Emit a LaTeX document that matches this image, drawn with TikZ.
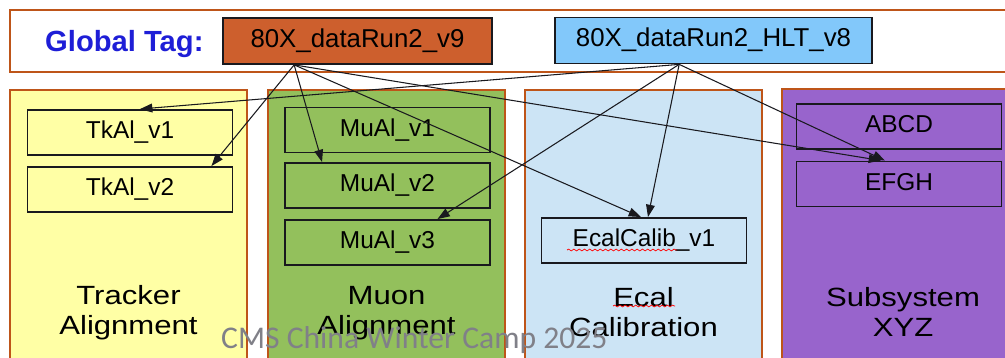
\documentclass[tikz,border=0pt]{standalone}
\usepackage{fontspec}
\setmainfont{Liberation Sans}
\newfontfamily\widefont[FakeStretch=1.18]{Liberation Sans}
\newfontfamily\markfont{Carlito}
\usetikzlibrary{arrows.meta,calc,decorations.pathmorphing}
\definecolor{rust}{RGB}{190,85,25}
\definecolor{ink}{RGB}{25,25,30}
\definecolor{tagblue}{RGB}{30,30,215}
\definecolor{gtorange}{RGB}{205,95,45}
\definecolor{gtsky}{RGB}{130,200,250}
\definecolor{trkyellow}{RGB}{255,255,165}
\definecolor{muongreen}{RGB}{147,192,92}
\definecolor{ecalblue}{RGB}{204,228,245}
\definecolor{subpurple}{RGB}{152,100,204}
\definecolor{markgray}{RGB}{128,128,136}

\begin{document}
\begin{tikzpicture}[x=0.02cm,y=-0.02cm,panel/.style={draw=rust,line width=1.7pt,fill=#1},tagbox/.style={draw=ink,line width=1pt,fill=#1,minimum height=0.92cm,inner sep=0pt,text height=0.72em,text depth=0pt,font=\fontsize{14.7}{17}\selectfont},condbox/.style={draw=ink,line width=1.1pt,minimum width=4.1cm,minimum height=0.9cm,inner sep=0pt,text height=0.72em,text depth=0pt,font=\fontsize{13.9}{16}\selectfont},sysname/.style={align=center,font=\widefont\fontsize{15}{17}\selectfont},arrow/.style={-{Triangle[length=7pt,width=5pt]},line width=0.6pt,draw=ink},squig/.style={draw=red,line width=0.4pt,decorate,decoration={snake,amplitude=0.5pt,segment length=3pt}}]
\clip (0,0) rectangle (1005,358);
% subsystem columns
\draw[panel=trkyellow] (10,90) rectangle (247,380);
\draw[panel=muongreen] (268,90) rectangle (505,380);
\draw[panel=ecalblue] (525,90) rectangle (762,380);
\draw[panel=subpurple] (782,89) rectangle (1020,380);
% global tag band
\draw[panel=white] (10,10) rectangle (1020,72);
\node[anchor=base west,text=tagblue,font=\bfseries\fontsize{16.6}{19}\selectfont] (gtlabel) at (39,52) {Global Tag:};
\node[tagbox=gtorange,minimum width=5.38cm] (v9) at (357.5,41) {80X\_dataRun2\_v9};
\node[tagbox=gtsky,minimum width=6.34cm] (hlt) at (713.5,40.5) {80X\_dataRun2\_HLT\_v8};
% conditions in each column
\node[condbox] (tk1) at (130,132.5) {TkAl\_v1};
\node[condbox] (tk2) at (130,189.5) {TkAl\_v2};
\node[condbox] (mu1) at (387.5,130) {MuAl\_v1};
\node[condbox] (mu2) at (387.5,185.5) {MuAl\_v2};
\node[condbox] (mu3) at (387.5,242.5) {MuAl\_v3};
\node[condbox] (ecal) at (644,240.5) {EcalCalib\_v1};
\node[condbox] (abcd) at (899,126.5) {ABCD};
\node[condbox] (efgh) at (899,184) {EFGH};
\node[sysname] (trkname) at (128.5,313) {Tracker\\Alignment};
\node[sysname] (muname) at (386.5,313) {Muon\\Alignment};
\node[sysname] (ecalname) at (643.5,312) {Ecal\\Calibration};
\node[sysname] (subname) at (903,312) {Subsystem\\XYZ};
\draw[squig] (567,250) -- (677,250); \draw[squig] (613,306) -- (675,306);
% tag to payload links
\coordinate (v9out) at ($(v9.south west)+(72,0)$);
\coordinate (hltout) at ($(hlt.south west)+(125,0)$);
\draw[arrow] (v9out)--($(tk2.north east)+(-22,0)$); \draw[arrow] (v9out)--($(mu2.north west)+(38,0)$); \draw[arrow] (v9out)--($(ecal.north)+(-3,0)$); \draw[arrow] (v9out)--($(efgh.north)+(-18,0)$);
\draw[arrow] (hltout)--($(tk1.north)+(10,0)$); \draw[arrow] (hltout)--($(mu3.north)+(50,0)$); \draw[arrow] (hltout)--($(ecal.north)+(4,0)$); \draw[arrow] (hltout)--($(efgh.north)+(-14,0)$);
\node[anchor=base west,text=markgray,font=\markfont\fontsize{18}{20}\selectfont] (mark) at (215,348) {CMS China Winter Camp 2025};
\end{tikzpicture}
\end{document}
